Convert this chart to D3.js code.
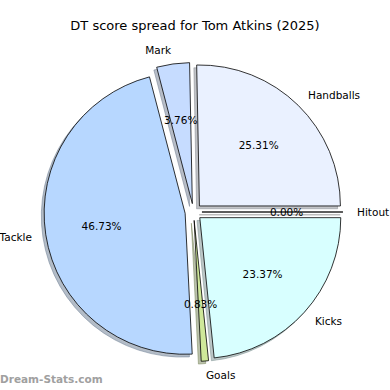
<!DOCTYPE html>
<html>
<head>
<meta charset="utf-8">
<script src="https://cdn.jsdelivr.net/npm/d3@7"></script>
<style>
  body { margin: 0; background: #fff; }
  svg { font-family: "DejaVu Sans", sans-serif; }
</style>
</head>
<body>
<script>
// data (percent of DT score), in drawing order, counter-clockwise from 3 o'clock
let categories = ['Handballs', 'Mark', 'Tackle', 'Goals', 'Kicks', 'Hitout']
let shares = [25.31, 3.76, 46.73, 0.83, 23.37, 0.00]
let sliceColors = ['#eaf1ff', '#c6dcff', '#b7d7ff', '#cfe89a', '#d8ffff', '#ffffff']

let data = categories.map((c, i) => ({ name: c, value: shares[i] }))

let width = 390,
    height = 390,
    cx = 193.5,
    cy = 212,
    radius = 141,
    explode = 0.06

let svg = d3.select('body')
            .append('svg')
            .attr('width', width)
            .attr('height', height)

let color = d3.scaleOrdinal()
              .domain(categories)
              .range(sliceColors)

// matplotlib style: start at 0 deg, go counter-clockwise
let pie = d3.pie()
            .sort(null)
            .value(d => d.value)
            .startAngle(Math.PI / 2)
            .endAngle(Math.PI / 2 - 2 * Math.PI)

let arcs = pie(data)

let arc = d3.arc().innerRadius(0).outerRadius(radius)

let mid = d => (d.startAngle + d.endAngle) / 2
let offset = d => [Math.sin(mid(d)) * explode * radius, -Math.cos(mid(d)) * explode * radius]

let g = svg.append('g').attr('transform', `translate(${cx},${cy})`)

// shadows first
g.selectAll('path.shadow')
  .data(arcs)
  .enter()
  .append('path')
  .attr('class', 'shadow')
  .attr('d', arc)
  .attr('transform', d => {
    let o = offset(d)
    return `translate(${o[0] - 2.8},${o[1] + 2.8})`
  })
  .attr('fill', d => d3.rgb(color(d.data.name)).darker(1.6))
  .attr('fill-opacity', 0.5)
  .attr('stroke', d => d3.rgb(color(d.data.name)).darker(1.6))
  .attr('stroke-opacity', 0.5)
  .attr('stroke-width', 1)

// wedges
g.selectAll('path.wedge')
  .data(arcs)
  .enter()
  .append('path')
  .attr('class', 'wedge')
  .attr('d', arc)
  .attr('transform', d => `translate(${offset(d)})`)
  .attr('fill', d => color(d.data.name))
  .attr('stroke', '#000')
  .attr('stroke-width', 0.8)
  .attr('stroke-linejoin', 'round')

// category labels at 1.1 r
g.selectAll('text.label')
  .data(arcs)
  .enter()
  .append('text')
  .attr('class', 'label')
  .attr('x', d => offset(d)[0] + Math.sin(mid(d)) * radius * 1.1)
  .attr('y', d => offset(d)[1] - Math.cos(mid(d)) * radius * 1.1)
  .attr('dy', '0.35em')
  .style('text-anchor', d => Math.sin(mid(d)) > 0 ? 'start' : 'end')
  .style('font-size', '10.5px')
  .text(d => d.data.name)

// percentages at 0.6 r
g.selectAll('text.pct')
  .data(arcs)
  .enter()
  .append('text')
  .attr('class', 'pct')
  .attr('x', d => offset(d)[0] + Math.sin(mid(d)) * radius * 0.6)
  .attr('y', d => offset(d)[1] - Math.cos(mid(d)) * radius * 0.6)
  .attr('dy', '0.35em')
  .style('text-anchor', 'middle')
  .style('font-size', '10.5px')
  .text(d => d.data.value.toFixed(2) + '%')

//title
svg.append('text')
  .attr('x', 195)
  .attr('y', 25)
  .attr('dy', '0.35em')
  .style('text-anchor', 'middle')
  .style('font-size', '13px')
  .text('DT score spread for Tom Atkins (2025)')

//watermark
svg.append('text')
  .attr('x', 0)
  .attr('y', 379)
  .attr('dy', '0.35em')
  .style('font-size', '10.5px')
  .style('font-weight', 'bold')
  .style('fill', '#a0a0a0')
  .text('Dream-Stats.com')
</script>
</body>
</html>
